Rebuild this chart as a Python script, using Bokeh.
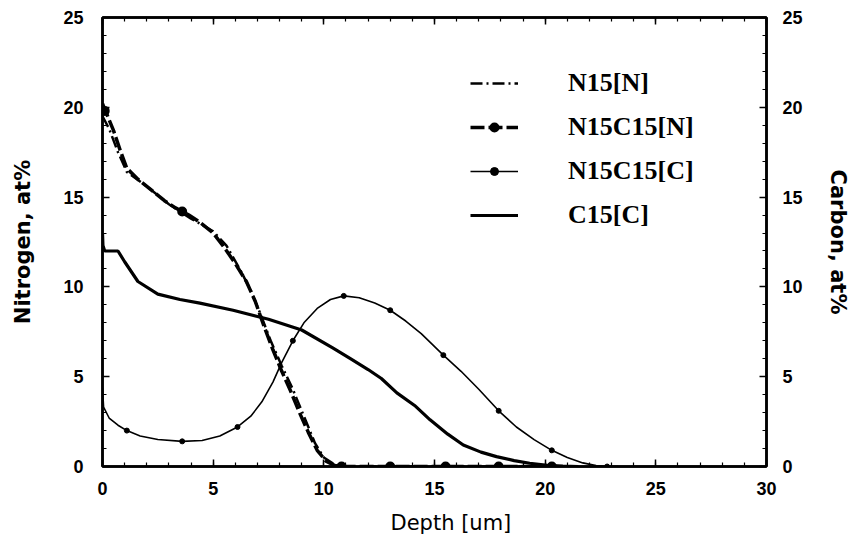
from bokeh.plotting import figure
from bokeh.models import Range1d, LinearAxis, Legend, LegendItem, FixedTicker, Title
from bokeh.embed import file_html
from bokeh.resources import INLINE

# Depth profiles (depth in um, concentration in at%)
n15_n_x = [0.0, 0.3, 0.7, 1.1, 2.0, 3.0, 4.0, 5.0, 5.6, 6.2, 6.7, 7.1, 7.6, 8.1, 8.6,
           9.1, 9.6, 10.0, 10.5, 11.0, 13.0, 15.5, 18.0, 20.3]
n15_n_y = [19.5, 18.8, 17.5, 16.4, 15.6, 14.6, 13.8, 13.1, 12.3, 11.0, 9.8, 8.6, 7.0, 5.6, 4.3,
           2.8, 1.3, 0.5, 0.1, 0.0, 0.0, 0.0, 0.0, 0.0]

n15c15_n_x = [0.0, 0.2, 0.5, 0.8, 1.1, 1.6, 2.2, 2.8, 3.3, 3.9, 4.4, 5.0, 5.5, 6.0, 6.5,
              6.9, 7.3, 7.7, 8.1, 8.5, 8.9, 9.3, 9.7, 10.1, 10.5, 11.0, 13.0, 15.5, 18.0, 20.3]
n15c15_n_y = [20.2, 19.6, 18.7, 17.6, 16.6, 16.0, 15.4, 14.8, 14.4, 14.0, 13.6, 13.0, 12.2, 11.3, 10.3,
              9.2, 7.8, 6.5, 5.3, 4.2, 3.0, 1.9, 0.9, 0.3, 0.05, 0.0, 0.0, 0.0, 0.0, 0.0]
n15c15_n_mark_x = [0.1, 3.6, 10.8, 13.0, 15.5, 17.9, 20.3]
n15c15_n_mark_y = [19.8, 14.2, 0.0, 0.0, 0.0, 0.0, 0.0]

n15c15_c_x = [0.0, 0.05, 0.3, 0.7, 1.1, 1.7, 2.5, 3.6, 4.5, 5.3, 6.1, 6.7, 7.2, 7.7, 8.1,
              8.6, 9.1, 9.7, 10.3, 10.9, 11.6, 12.3, 13.0, 13.7, 14.4, 15.4, 16.2, 17.0, 17.9,
              18.7, 19.5, 20.3, 21.0, 21.7, 22.3, 22.8, 23.3]
n15c15_c_y = [4.4, 3.3, 2.7, 2.3, 2.0, 1.7, 1.5, 1.4, 1.45, 1.7, 2.2, 2.8, 3.6, 4.7, 5.8,
              7.0, 8.0, 8.8, 9.3, 9.5, 9.4, 9.1, 8.7, 8.1, 7.4, 6.2, 5.3, 4.3, 3.1,
              2.2, 1.5, 0.9, 0.5, 0.2, 0.05, 0.0, 0.0]
n15c15_c_mark_x = [1.1, 3.6, 6.1, 8.6, 10.9, 13.0, 15.4, 17.9, 20.3, 22.8]
n15c15_c_mark_y = [2.0, 1.4, 2.2, 7.0, 9.5, 8.7, 6.2, 3.1, 0.9, 0.0]

c15_c_x = [0.0, 0.02, 0.1, 0.7, 1.0, 1.6, 2.5, 3.5, 4.4, 5.9, 7.5, 9.0, 10.4, 11.2, 12.0,
           12.6, 13.3, 14.1, 14.8, 15.6, 16.3, 17.1, 17.8, 18.6, 19.3, 20.1, 20.8, 21.5]
c15_c_y = [13.0, 12.3, 12.0, 12.0, 11.4, 10.3, 9.6, 9.3, 9.1, 8.7, 8.2, 7.6, 6.6, 6.0, 5.4,
           4.9, 4.1, 3.4, 2.6, 1.8, 1.2, 0.8, 0.55, 0.33, 0.18, 0.06, 0.02, 0.0]

x_ticks = [0, 5, 10, 15, 20, 25, 30]
y_ticks = [0, 5, 10, 15, 20, 25]
series_names = ["N15[N]", "N15C15[N]", "N15C15[C]", "C15[C]"]

AXIS_FONT = "DejaVu Sans"
TICK_FONT = "Liberation Sans"

p = figure(width=852, height=550, output_backend="svg", toolbar_location=None,
           x_range=Range1d(0, 30), y_range=Range1d(0, 25),
           x_axis_location=None, y_axis_location=None,
           min_border_left=102, min_border_right=86, min_border_top=17, min_border_bottom=84)
p.extra_y_ranges = {"carbon": Range1d(0, 25)}
p.grid.visible = False
p.outline_line_color = "black"
p.outline_line_width = 2.5
p.background_fill_color = "white"
p.border_fill_color = "white"


def style_axis(ax, ticks, standoff):
    ax.ticker = FixedTicker(ticks=ticks, minor_ticks=list(range(0, 31)))
    ax.axis_line_width = 2.5
    ax.axis_line_color = "black"
    ax.major_tick_in = 7
    ax.major_tick_out = 0
    ax.minor_tick_in = 4
    ax.minor_tick_out = 0
    ax.major_tick_line_width = 1.5
    ax.minor_tick_line_width = 1.2
    ax.major_label_standoff = standoff
    ax.major_label_text_font = TICK_FONT
    ax.major_label_text_font_style = "bold"
    ax.major_label_text_font_size = "18px"
    ax.major_label_text_color = "black"
    ax.axis_label_text_font = AXIS_FONT
    ax.axis_label_text_color = "black"
    ax.axis_label_text_font_size = "21px"


bottom = LinearAxis()
style_axis(bottom, x_ticks, 15)
p.add_layout(bottom, "below")

# x-axis title, set a little right of the frame centre
p.add_layout(Title(text="Depth [um]", align="left", offset=288, standoff=23,
                   text_font=AXIS_FONT, text_font_size="21px", text_font_style="normal",
                   text_color="black"), "below")

top = LinearAxis()
style_axis(top, x_ticks, 0)
top.major_label_overrides = {t: "" for t in x_ticks}
top.major_label_text_font_size = "1px"
p.add_layout(top, "above")

left = LinearAxis(axis_label="Nitrogen, at%")
style_axis(left, y_ticks, 19)
left.axis_label_text_font_style = "bold"
left.axis_label_standoff = 25
p.add_layout(left, "left")

right = LinearAxis(y_range_name="carbon", axis_label="Carbon, at%")
style_axis(right, y_ticks, 16)
right.axis_label_text_font_style = "bold"
right.axis_label_standoff = 20
p.add_layout(right, "right")

# Nitrogen profiles
r_n15 = p.line(n15_n_x, n15_n_y, line_color="black", line_width=2.5, line_dash="12 4 2 4")
r_n15c15_n = p.line(n15c15_n_x, n15c15_n_y, line_color="black", line_width=3.5, line_dash="14 4")
r_n15c15_n_m = p.scatter(n15c15_n_mark_x, n15c15_n_mark_y, marker="circle", size=8,
                         line_color="black", line_width=2, fill_color="black")

# Carbon profiles
r_n15c15_c = p.line(n15c15_c_x, n15c15_c_y, line_color="black", line_width=1.6,
                    y_range_name="carbon")
r_n15c15_c_m = p.scatter(n15c15_c_mark_x, n15c15_c_mark_y, marker="circle", size=5,
                         fill_color="black", line_color="black", y_range_name="carbon")
r_c15 = p.line(c15_c_x, c15_c_y, line_color="black", line_width=3.2, y_range_name="carbon")

legend = Legend(items=[
    LegendItem(label=series_names[0], renderers=[r_n15]),
    LegendItem(label=series_names[1], renderers=[r_n15c15_n, r_n15c15_n_m]),
    LegendItem(label=series_names[2], renderers=[r_n15c15_c, r_n15c15_c_m]),
    LegendItem(label=series_names[3], renderers=[r_c15]),
], location=(368, 229))
legend.border_line_color = None
legend.background_fill_alpha = 0
legend.padding = 0
legend.margin = 0
legend.spacing = 0
legend.glyph_width = 48
legend.glyph_height = 20
legend.label_height = 44
legend.label_standoff = 50
legend.label_text_font = "Liberation Serif"
legend.label_text_font_style = "bold"
legend.label_text_font_size = "26px"
legend.label_text_color = "black"
p.add_layout(legend, "center")

open("out.html", "w").write(file_html(p, INLINE))
